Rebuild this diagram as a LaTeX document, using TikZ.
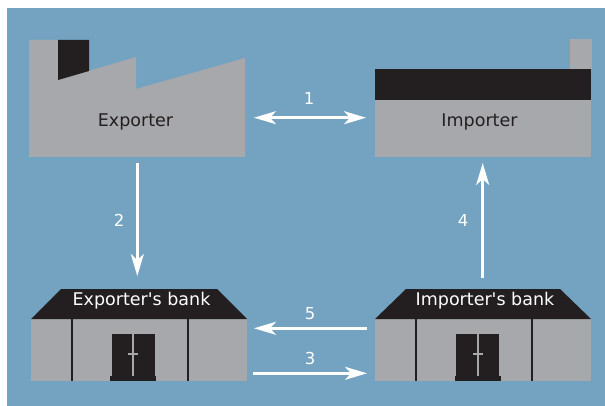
\documentclass[tikz,border=0pt]{standalone}
\usepackage{fontspec}
\setmainfont{DejaVu Sans}
\usetikzlibrary{arrows.meta}
\definecolor{bgblue}{HTML}{73A3C1}
\definecolor{bgray}{HTML}{A7A8AB}
\definecolor{bblack}{HTML}{231F20}
\begin{document}
\begin{tikzpicture}[x=1pt,y=-1pt,
  lbl/.style={font=\fontsize{17.5}{20}\selectfont, text=bblack, inner sep=0pt, anchor=base},
  rooflbl/.style={font=\fontsize{17.5}{20}\selectfont, text=white, inner sep=0pt, anchor=base},
  num/.style={font=\fontsize{16.5}{19}\selectfont, text=white, inner sep=0pt, anchor=base},
  body/.style={inner sep=0pt, outer sep=0pt, draw=none},
  arr/.style={draw=white, line width=2.6pt, -{Stealth[length=22pt,width=13pt,inset=6pt]}},
  darr/.style={draw=white, line width=2.6pt, {Stealth[length=22pt,width=13pt,inset=6pt]}-{Stealth[length=22pt,width=13pt,inset=6pt]}},
  divider/.style={draw=bblack, line width=2pt}
]
\useasboundingbox (0,0) rectangle (605,406);
\fill[bgblue] (7,8) rectangle (605,406);

% ---------- Exporter (factory) ----------
\fill[bgray] (29,157) -- (29,40) -- (58,40) -- (58,80) -- (136,57) -- (136,89) -- (245,58) -- (245,157) -- cycle;
\fill[bblack] (58,40) -- (89,40) -- (89,71) -- (58,80) -- cycle;
\node[body, minimum width=216pt, minimum height=117pt] (exp) at (137,98.5) {};
\node[lbl] (explbl) at (135.5,127) {Exporter};

% ---------- Importer ----------
\fill[bgray] (375,100) rectangle (591,157);
\fill[bblack] (375,69) rectangle (591,100);
\fill[bgray] (570,39) rectangle (592,69);
\node[body, minimum width=216pt, minimum height=88pt] (imp) at (483,113) {};
\node[lbl] (implbl) at (479.5,127) {Importer};

% ---------- Exporter's bank ----------
\fill[bgray] (31,319) rectangle (247,381);
\fill[bblack] (31,319) -- (61,289) -- (217,289) -- (247,319) -- cycle;
\draw[divider] (72,319) -- (72,381);
\draw[divider] (188,319) -- (188,381);
\fill[bblack] (112,334) rectangle (155,377);
\fill[bblack] (110,376) rectangle (156,381);
\fill[bgray] (132.3,334) rectangle (134.3,376);
\fill[bgray] (128,353) rectangle (138,355);
\node[body, minimum width=216pt, minimum height=92pt] (expbank) at (139,335) {};
\node[rooflbl] (expbanklbl) at (141.5,305.7) {Exporter\textquotesingle s bank};

% ---------- Importer's bank ----------
\fill[bgray] (375,319) rectangle (591,381);
\fill[bblack] (375,319) -- (406,289) -- (560,289) -- (591,319) -- cycle;
\draw[divider] (416,319) -- (416,381);
\draw[divider] (532,319) -- (532,381);
\fill[bblack] (456,334) rectangle (499,377);
\fill[bblack] (455,376) rectangle (501,381);
\fill[bgray] (476.7,334) rectangle (478.7,376);
\fill[bgray] (473,353) rectangle (483,355);
\node[body, minimum width=216pt, minimum height=92pt] (impbank) at (483,335) {};
\node[rooflbl] (impbanklbl) at (485,305.7) {Importer\textquotesingle s bank};

% ---------- connector levels ----------
\coordinate (y1) at (0,117.7);
\coordinate (y5) at (0,328.3);
\coordinate (y3) at (0,373.3);
\coordinate (x2) at (137.3,0);
\coordinate (x4) at (482.7,0);

% ---------- connectors ----------
\draw[darr, shorten <=9pt, shorten >=9pt] (exp.east |- y1) -- (imp.west |- y1);
\draw[arr, shorten <=6pt, shorten >=13pt] (x2 |- exp.south) -- (x2 |- expbank.north);
\draw[arr, shorten <=11pt, shorten >=6pt] (x4 |- impbank.north) -- (x4 |- imp.south);
\draw[arr, shorten <=8pt, shorten >=7pt] (impbank.west |- y5) -- (expbank.east |- y5);
\draw[arr, shorten <=6pt, shorten >=8pt] (expbank.east |- y3) -- (impbank.west |- y3);

% ---------- numbers ----------
\node[num] (n1) at (309,105) {1};
\node[num] (n2) at (119,226) {2};
\node[num] (n3) at (310,364) {3};
\node[num] (n4) at (463,226) {4};
\node[num] (n5) at (310,319) {5};
\end{tikzpicture}
\end{document}
